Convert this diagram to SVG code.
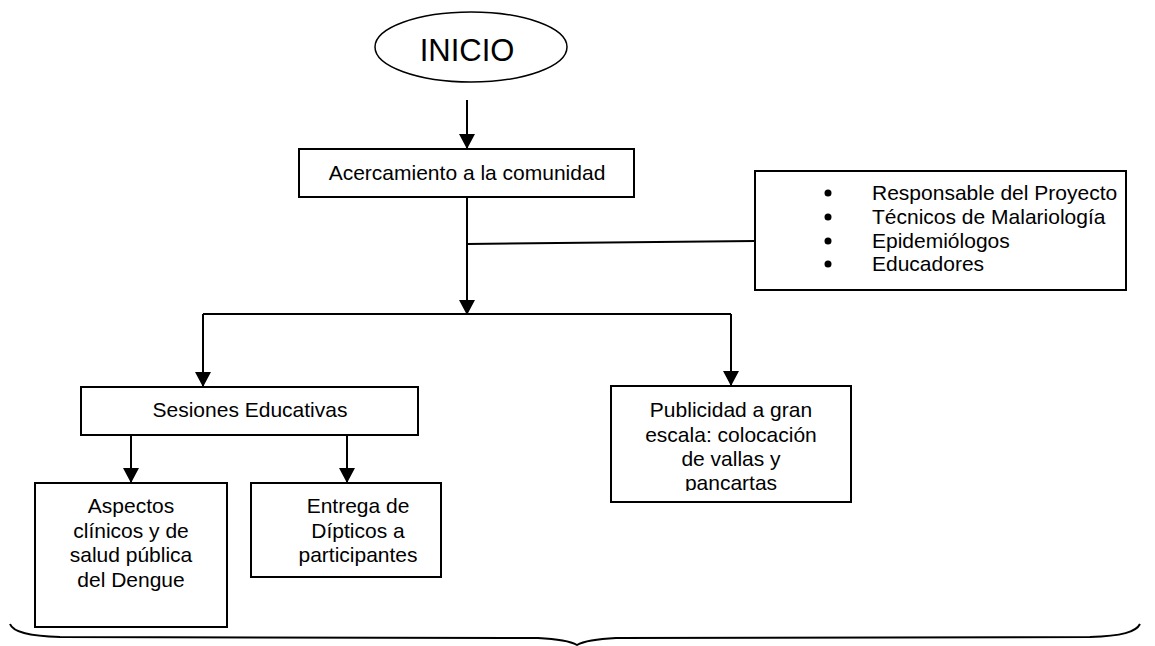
<svg xmlns="http://www.w3.org/2000/svg" width="1155" height="646" viewBox="0 0 1155 646">
<style>
.box{fill:#fff;stroke:#000;stroke-width:2}
.ln{fill:none;stroke:#000;stroke-width:2}
.t{font-family:"Liberation Sans",Arial,sans-serif;font-size:21px;fill:#000;text-anchor:middle}
.tl{font-family:"Liberation Sans",Arial,sans-serif;font-size:21px;fill:#000}
</style>
<defs>
<marker id="ah" markerUnits="userSpaceOnUse" markerWidth="16" markerHeight="16" viewBox="0 0 16 16" refX="8" refY="15" orient="auto-start-reverse">
<path d="M0,0 L16,0 L8,15 Z" fill="#000" transform="rotate(0)"/>
</marker>
<marker id="av" markerUnits="userSpaceOnUse" markerWidth="16" markerHeight="16" viewBox="0 0 16 16" refX="15" refY="8" orient="auto">
<path d="M0,0 L15,8 L0,16 Z" fill="#000"/>
</marker>
<clipPath id="pubclip"><rect x="611" y="386" width="240" height="105"/></clipPath>
</defs>
<g id="connectors">
<path class="ln" d="M467,100 V149" marker-end="url(#av)"/>
<path class="ln" d="M467,197 V315" marker-end="url(#av)"/>
<path class="ln" d="M467,244 L755,241"/>
<path class="ln" d="M203,314 H731"/>
<path class="ln" d="M203,314 V387" marker-end="url(#av)"/>
<path class="ln" d="M731,314 V386" marker-end="url(#av)"/>
<path class="ln" d="M131,435 V483" marker-end="url(#av)"/>
<path class="ln" d="M347,435 V483" marker-end="url(#av)"/>
</g>
<g id="inicio">
<ellipse cx="471" cy="47" rx="96" ry="35" fill="#fff" stroke="#000" stroke-width="1.5"/>
<text x="467" y="61" font-family="'Liberation Sans',Arial,sans-serif" font-size="31" text-anchor="middle">INICIO</text>
</g>
<g id="acercamiento">
<rect class="box" x="299" y="149" width="335" height="48"/>
<text class="t" x="467" y="180">Acercamiento a la comunidad</text>
</g>
<g id="responsables">
<rect class="box" x="755" y="171" width="371" height="119"/>
<circle cx="828" cy="193" r="3.5"/>
<circle cx="828" cy="217" r="3.5"/>
<circle cx="828" cy="241" r="3.5"/>
<circle cx="828" cy="264" r="3.5"/>
<text class="tl" x="872" y="200">Responsable del Proyecto</text>
<text class="tl" x="872" y="224">Técnicos de Malariología</text>
<text class="tl" x="872" y="248">Epidemiólogos</text>
<text class="tl" x="872" y="271">Educadores</text>
</g>
<g id="sesiones">
<rect class="box" x="81" y="387" width="337" height="48"/>
<text class="t" x="250" y="417">Sesiones Educativas</text>
</g>
<g id="publicidad">
<rect class="box" x="611" y="386" width="240" height="116"/>
<g clip-path="url(#pubclip)">
<text class="t" x="731" y="417">Publicidad a gran</text>
<text class="t" x="731" y="442">escala: colocación</text>
<text class="t" x="731" y="466">de vallas y</text>
<text class="t" x="731" y="490">pancartas</text>
</g>
</g>
<g id="aspectos">
<rect class="box" x="35" y="483" width="192" height="144"/>
<text class="t" x="131" y="513">Aspectos</text>
<text class="t" x="131" y="538">clínicos y de</text>
<text class="t" x="131" y="562">salud pública</text>
<text class="t" x="131" y="587">del Dengue</text>
</g>
<g id="entrega">
<rect class="box" x="251" y="483" width="190" height="94"/>
<text class="t" x="358" y="513">Entrega de</text>
<text class="t" x="358" y="538">Dípticos a</text>
<text class="t" x="358" y="562">participantes</text>
</g>
<g id="brace">
<path class="ln" d="M10,624 C13,632 28,636 60,637 L538,638 C558,639 570,641 577,645 C584,641 596,639 616,638 L1090,637 C1122,636 1136,632 1140,624"/>
</g>
</svg>
